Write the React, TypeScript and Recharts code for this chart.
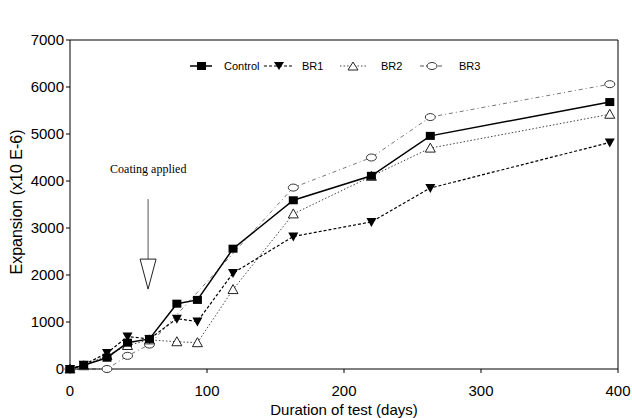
import React from 'react';
import { LineChart, Line, XAxis, YAxis, ReferenceLine, ReferenceDot, Legend } from 'recharts';

const days = [0, 10, 27, 42, 58, 78, 93, 119, 163, 220, 263, 394];
const control = [0, 80, 240, 560, 640, 1390, 1470, 2560, 3590, 4110, 4960, 5680];
const br1 = [0, 90, 340, 690, 640, 1070, 1010, 2040, 2820, 3130, 3850, 4820];
const br2 = [0, 70, 290, 500, 620, 580, 560, 1690, 3300, 4100, 4700, 5420];
const br3: (number | null)[] = [0, null, 0, 280, 520, null, null, null, 3860, 4500, 5360, 6060];
const xTicks = [0, 100, 200, 300, 400];
const yTicks = [0, 1000, 2000, 3000, 4000, 5000, 6000, 7000];

const data = days.map((d, i) => ({ day: d, control: control[i], br1: br1[i], br2: br2[i], br3: br3[i] }));

const FONT = '"Liberation Sans", Arial, sans-serif';

const Square = (p: any) => p.cx == null || p.value == null ? null : (
  <rect key={p.key} x={p.cx - 4.5} y={p.cy - 4} width={9} height={8} fill="#000" />
);
const DownTri = (p: any) => p.cx == null || p.value == null ? null : (
  <polygon key={p.key} points={`${p.cx - 5},${p.cy - 4} ${p.cx + 5},${p.cy - 4} ${p.cx},${p.cy + 5}`} fill="#000" />
);
const UpTri = (p: any) => p.cx == null || p.value == null ? null : (
  <polygon key={p.key} points={`${p.cx - 5},${p.cy + 4} ${p.cx + 5},${p.cy + 4} ${p.cx},${p.cy - 5}`} fill="#fff" stroke="#222" strokeWidth={1} />
);
const Ellipse = (p: any) => p.cx == null || p.value == null ? null : (
  <ellipse key={p.key} cx={p.cx} cy={p.cy} rx={5} ry={3.5} fill="#fff" stroke="#333" strokeWidth={1} />
);

const LegendBox = () => (
  <svg width={300} height={20}>
    <g fontFamily={FONT} fontSize={11} fill="#000">
      <line x1={2} y1={10} x2={24} y2={10} stroke="#000" strokeWidth={1.5} />
      <rect x={9} y={6} width={9} height={8} fill="#000" />
      <text x={36} y={14}>Control</text>
      <line x1={76} y1={10} x2={106} y2={10} stroke="#000" strokeDasharray="3 2" />
      <polygon points="86,6 96,6 91,14" fill="#000" />
      <text x={114} y={14}>BR1</text>
      <line x1={152} y1={10} x2={178} y2={10} stroke="#444" strokeDasharray="1.5 2" />
      <polygon points="160,14 170,14 165,6" fill="#fff" stroke="#222" />
      <text x={193} y={14}>BR2</text>
      <line x1={232} y1={10} x2={254} y2={10} stroke="#555" strokeDasharray="4 2 1 2" />
      <ellipse cx={244} cy={10} rx={5} ry={3.5} fill="#fff" stroke="#333" />
      <text x={271} y={14}>BR3</text>
    </g>
  </svg>
);

const Arrow = (p: any) => {
  const { cx, cy } = p;
  return (
    <g>
      <text x={cx - 38} y={cy - 116} fontFamily='"Liberation Serif", "Times New Roman", serif' fontSize={12} fill="#000">Coating applied</text>
      <line x1={cx} y1={cy - 90} x2={cx} y2={cy - 30} stroke="#555" strokeWidth={1} />
      <polygon points={`${cx - 8},${cy - 30} ${cx + 8},${cy - 30} ${cx},${cy}`} fill="#fff" stroke="#222" strokeWidth={1} />
    </g>
  );
};

export default function App() {
  return (
    <div style={{ position: 'absolute', left: 0, top: 0, width: 632, height: 418, background: '#fff' }}>
      <LineChart width={632} height={418} data={data} margin={{ top: 16, right: 14, bottom: 3, left: 10 }}>
        <XAxis dataKey="day" type="number" domain={[0, 400]} ticks={xTicks} stroke="#000"
          tick={{ fill: '#000', fontSize: 15, fontFamily: FONT }} tickSize={4} tickMargin={12} height={46}
          label={{ value: 'Duration of test (days)', position: 'insideBottom', offset: 0, fill: '#000', fontSize: 15, fontFamily: FONT }} />
        <YAxis domain={[0, 7000]} ticks={yTicks} stroke="#000" width={60} interval={0}
          tick={{ fill: '#000', fontSize: 15, fontFamily: FONT }} tickSize={4} tickMargin={2}
          label={{ value: 'Expansion (x10 E-6)', angle: -90, position: 'insideLeft', offset: 6, dy: 70, fill: '#000', fontSize: 16, fontFamily: FONT }} />
        <ReferenceLine y={7000} stroke="#000" />
        <ReferenceLine x={400} stroke="#000" />
        <Legend verticalAlign="top" content={() => <LegendBox />} wrapperStyle={{ position: 'absolute', top: 56, left: 188, width: 300 }} />
        <Line dataKey="br3" stroke="#777" strokeWidth={1} strokeDasharray="4 3 1 3" dot={Ellipse} connectNulls isAnimationActive={false} legendType="none" />
        <Line dataKey="br2" stroke="#444" strokeWidth={1} strokeDasharray="1.5 2" dot={UpTri} isAnimationActive={false} />
        <Line dataKey="br1" stroke="#000" strokeWidth={1.2} strokeDasharray="3 2" dot={DownTri} isAnimationActive={false} />
        <Line dataKey="control" stroke="#000" strokeWidth={1.5} dot={Square} isAnimationActive={false} />
        <ReferenceDot x={57} y={1700} r={0} shape={Arrow} />
      </LineChart>
    </div>
  );
}
